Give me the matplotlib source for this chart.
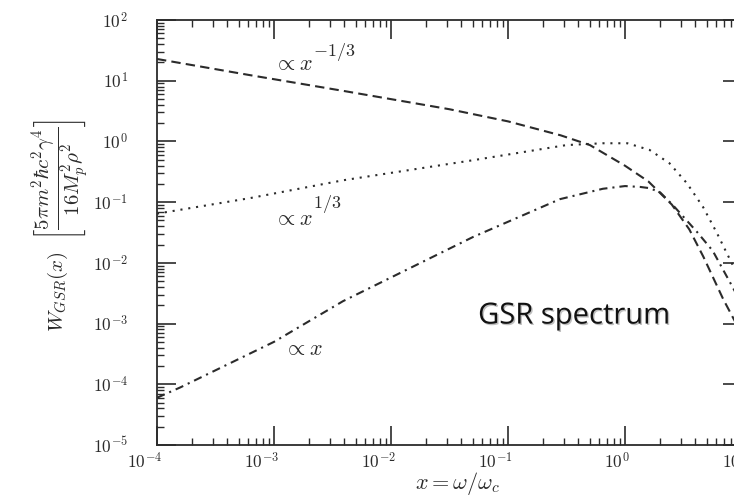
import math
import matplotlib
matplotlib.use("Agg")
import matplotlib.pyplot as plt
from matplotlib import ticker, patheffects
from matplotlib.transforms import ScaledTranslation

# values (log-log axes)
x_dash = [1e-4, 6.31e-4, 3.98e-3, 0.0316, 0.1, 0.282, 0.501, 1.0, 1.585, 2.512, 3.548, 4.677, 6.918, 8.91]
y_dash = [22.8, 12.3, 6.76, 3.39, 2.14, 1.26, 0.871, 0.398, 0.219, 0.0912, 0.0355, 0.0126, 0.00251, 0.001]

x_dot = [1e-4, 6.31e-4, 3.89e-3, 0.0501, 0.316, 0.646, 1.047, 1.622, 2.399, 3.388, 4.645, 6.109, 7.413, 8.913]
y_dot = [0.0646, 0.117, 0.229, 0.490, 0.871, 0.933, 0.933, 0.724, 0.437, 0.204, 0.0832, 0.0309, 0.01445, 0.00708]

x_dashdot = [1e-4, 1.585e-4, 1e-3, 3.89e-3, 0.0501, 0.278, 0.646, 1.0, 1.349, 1.622, 1.995, 2.57, 4.12, 5.62, 6.92, 8.32, 9.33]
y_dashdot = [6.0e-5, 8.9e-5, 5.0e-4, 2.34e-3, 0.0266, 0.112, 0.166, 0.184, 0.178, 0.170, 0.145, 0.0891, 0.0324, 0.0158, 0.00759, 0.00398, 0.00263]

x_major = [1e-4, 1e-3, 1e-2, 1e-1, 1e0, 1e1]
y_major = [1e-5, 1e-4, 1e-3, 1e-2, 1e-1, 1e0, 1e1, 1e2]

plt.rcParams["mathtext.fontset"] = "cm"
ink = "#2b2b2b"

fig = plt.figure(figsize=(7.34, 4.99), dpi=100)
ax = fig.add_axes([157 / 734, 1 - 445 / 499, (742 - 157) / 734, 425 / 499])

ax.plot(x_dash, y_dash, color=ink, lw=1.5, linestyle=(0, (4.5, 2.5)))
ax.plot(x_dot, y_dot, color=ink, lw=1.5, linestyle=(0, (1, 2.8)))
ax.plot(x_dashdot, y_dashdot, color=ink, lw=1.5, linestyle=(0, (4, 2.4, 1, 2.4)))

ax.set_xscale("log")
ax.set_yscale("log")
ax.set_xlim(1e-4, 1e1)
ax.set_ylim(1e-5, 1e2)

def pow_label(v):
    return r"$10^{%d}$" % round(math.log10(v))

ax.set_xticks(x_major, labels=[pow_label(v) for v in x_major], ha="right", fontsize=12.5)
ax.set_yticks(y_major, labels=[pow_label(v) for v in y_major], fontsize=12.5)
ax.xaxis.set_minor_locator(ticker.LogLocator(base=10, subs=range(2, 10), numticks=20))
ax.yaxis.set_minor_locator(ticker.LogLocator(base=10, subs=range(2, 10), numticks=20))
ax.xaxis.set_minor_formatter(ticker.NullFormatter())
ax.yaxis.set_minor_formatter(ticker.NullFormatter())

ax.tick_params(which="both", direction="in", top=True, right=True, colors=ink)
ax.tick_params(which="major", length=14, width=1.2)
ax.tick_params(which="minor", length=5, width=1.0)
ax.tick_params(axis="x", which="major", pad=5)
ax.tick_params(axis="y", which="major", pad=21)
for s in ax.spines.values():
    s.set_linewidth(1.3)
    s.set_color(ink)

shift = ScaledTranslation(5 / 100, 0, fig.dpi_scale_trans)
for lbl in ax.get_xticklabels():
    lbl.set_transform(lbl.get_transform() + shift)

# power-law notes, exponent set high as in the original
ax.text(1.0e-3, 15, r"$\propto x$", fontsize=16, color=ink)
ax.text(2.15e-3, 26, r"$-1/3$", fontsize=13, color=ink)
ax.text(1.0e-3, 0.042, r"$\propto x$", fontsize=16, color=ink)
ax.text(2.15e-3, 0.08, r"$1/3$", fontsize=13, color=ink)
ax.text(1.22e-3, 3.0e-4, r"$\propto x$", fontsize=16, color=ink)

ax.text(0.0555, 1.0e-3, "GSR spectrum", fontsize=21, family="Open Sans", color="#111111",
        path_effects=[patheffects.withSimplePatchShadow(offset=(1, -1), shadow_rgbFace="gray", alpha=0.5)])

ax.set_xlabel(r"$x = \omega/\omega_c$", fontsize=16, color=ink)
ax.xaxis.set_label_coords(0.513, -0.058)
fig.text(60 / 734, 1 - 225 / 499,
         r"$W_{GSR}(x)\ \ \left[\dfrac{5\pi m^{2}\hbar c^{2}\gamma^{4}}{16M_{p}^{2}\rho^{2}}\right]$",
         rotation=90, ha="center", va="center", fontsize=15, color=ink)

fig.savefig("out.png", dpi=100)
